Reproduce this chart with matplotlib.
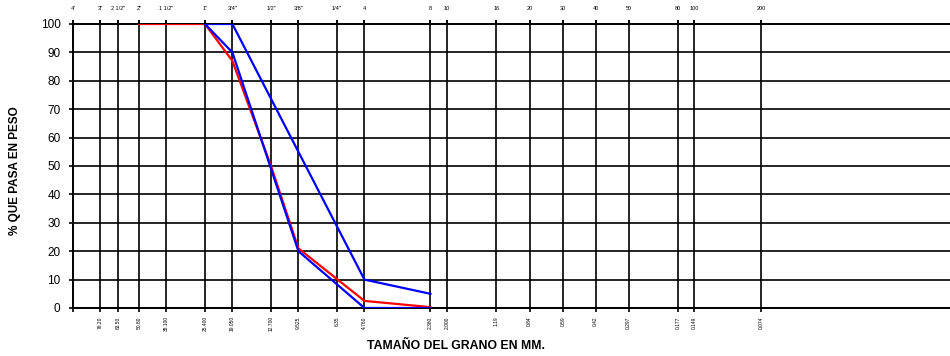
import matplotlib
matplotlib.use("Agg")
import matplotlib.pyplot as plt

# Sieve openings (mm) and names
sieve_mm = [101.6, 76.2, 63.5, 50.8, 38.1, 25.4, 19.05, 12.7, 9.525, 6.35, 4.76,
            2.38, 2.0, 1.19, 0.84, 0.59, 0.42, 0.297, 0.177, 0.149, 0.074]
sieve_names = ['4"', '3"', '2 1/2"', '2"', '1 1/2"', '1"', '3/4"', '1/2"', '3/8"', '1/4"', '4',
               '8', '10', '16', '20', '30', '40', '50', '80', '100', '200']
size_labels = ['', '76.20', '63.50', '50.80', '38.100', '25.400', '19.050', '12.700', '9.525',
               '6.35', '4.760', '2.380', '2.000', '1.19', '0.84', '0.59', '0.42', '0.297',
               '0.177', '0.149', '0.074']

# Sample gradation (red)
sample_mm = [50.8, 38.1, 25.4, 19.05, 12.7, 9.525, 4.76, 2.38]
sample_pct = [100, 100, 100, 87, 50, 21, 2.5, 0.3]

# Specification limits (blue)
spec_mm = [25.4, 19.05, 9.525, 4.76, 2.38]
spec_upper = [100, 100, 55, 10, 5]
spec_lower = [100, 90, 20, 0, 0]

y_ticks = list(range(0, 101, 10))

plt.rcParams['font.family'] = ['Liberation Sans', 'DejaVu Sans']

fig = plt.figure(figsize=(9.5, 3.56), dpi=100)
ax = fig.add_axes([73/950, 1-308/356, 877/950, 284/356])

ax.set_xscale('log')
ax.set_xlim(101.6, 0.01016)
ax.set_ylim(0, 100)

ax.plot(sample_mm, sample_pct, color='#ff0000', lw=1.6, zorder=3)
ax.plot(spec_mm, spec_upper, color='#0000ff', lw=1.6, zorder=4)
ax.plot(spec_mm, spec_lower, color='#0000ff', lw=1.6, zorder=4)

ax.set_xticks(sieve_mm)
ax.set_xticklabels(size_labels, rotation=90, fontsize=3.5)
ax.xaxis.set_minor_locator(matplotlib.ticker.NullLocator())
ax.set_yticks(y_ticks)
ax.set_yticklabels([str(v) for v in y_ticks], fontsize=8.5)

ax.grid(True, which='major', color='black', lw=1.2)
ax.set_axisbelow(True)
ax.tick_params(axis='x', direction='out', length=3, width=1.2, color='black', pad=3, top=True)
ax.tick_params(axis='y', direction='out', length=3, width=1.2, color='black', pad=6)

for s in ['left', 'bottom', 'top']:
    ax.spines[s].set_linewidth(1.4)
ax.spines['right'].set_visible(False)

sec = ax.secondary_xaxis('top')
sec.set_xticks(sieve_mm)
sec.set_xticklabels(sieve_names, fontsize=4)
sec.xaxis.set_minor_locator(matplotlib.ticker.NullLocator())
sec.tick_params(axis='x', direction='out', length=3, width=1.2, pad=6)
sec.spines['top'].set_visible(False)

fig.text(456/950, 1-346/356, 'TAMAÑO DEL GRANO EN MM.', ha='center', va='center',
         fontsize=8.8, fontweight='bold')
fig.text(15/950, 1-171/356, '% QUE PASA EN PESO', ha='center', va='center',
         rotation=90, fontsize=8.5, fontweight='bold')

fig.savefig('out.png', dpi=100)
